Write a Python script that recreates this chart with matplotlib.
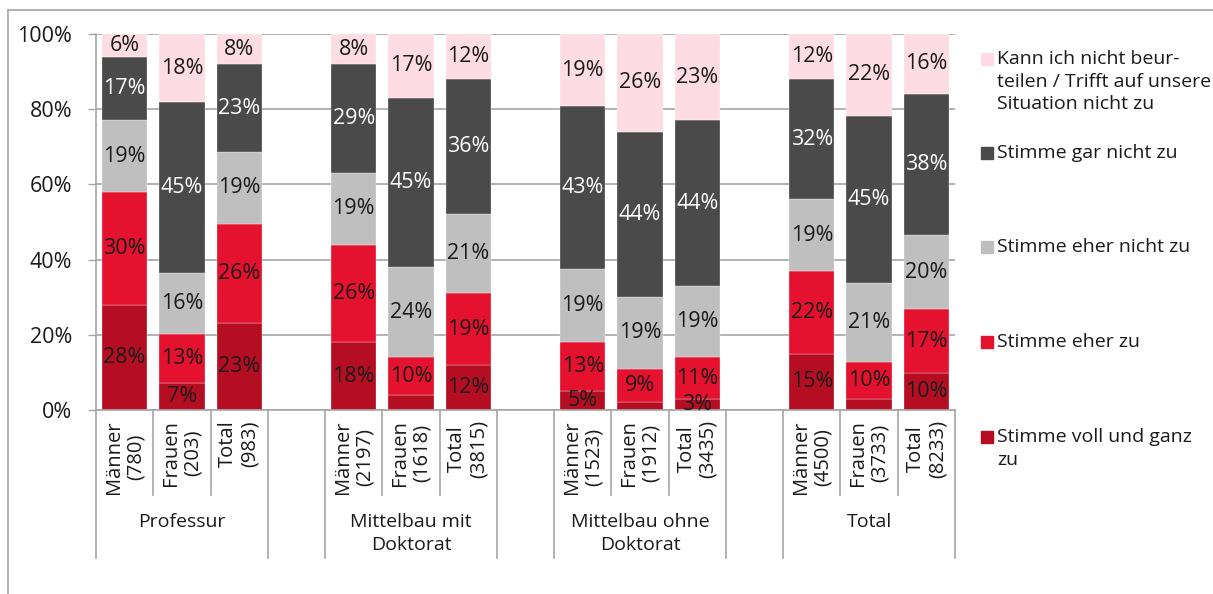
import matplotlib.pyplot as plt
import matplotlib.transforms as mtransforms
from matplotlib.lines import Line2D
from matplotlib.patches import Rectangle
import numpy as np

plt.rcParams["font.family"] = ["Open Sans", "DejaVu Sans"]

# data (percent per answer, bottom to top)
groups = ["Professur", "Mittelbau mit\nDoktorat", "Mittelbau ohne\nDoktorat", "Total"]
bar_labels = ["Männer\n(780)", "Frauen\n(203)", "Total\n(983)",
              "Männer\n(2197)", "Frauen\n(1618)", "Total\n(3815)",
              "Männer\n(1523)", "Frauen\n(1912)", "Total\n(3435)",
              "Männer\n(4500)", "Frauen\n(3733)", "Total\n(8233)"]
voll = [28, 7, 23, 18, 4, 12, 5, 2, 3, 15, 3, 10]
eher_zu = [30, 13, 26, 26, 10, 19, 13, 9, 11, 22, 10, 17]
eher_nicht = [19, 16, 19, 19, 24, 21, 19, 19, 19, 19, 21, 20]
gar_nicht = [17, 45, 23, 29, 45, 36, 43, 44, 44, 32, 45, 38]
kann_nicht = [6, 18, 8, 8, 17, 12, 19, 26, 23, 12, 22, 16]
series_names = ["Stimme voll und ganz\nzu", "Stimme eher zu", "Stimme eher nicht zu",
                "Stimme gar nicht zu", "Kann ich nicht beur-\nteilen / Trifft auf unsere\nSituation nicht zu"]
# segments whose value label is not shown (series index, bar index)
hidden = [(0, 4), (0, 7), (0, 10)]

colors = ["#B50E23", "#E4122E", "#BFBFBF", "#4A4A4A", "#FDDDE3"]
text_colors = ["#1a1a1a", "#1a1a1a", "#1a1a1a", "white", "#1a1a1a"]
grid_c = "#A6A6A6"
FS = 14
FS_NUM = 15.5

W, H = 1213, 594
fig = plt.figure(figsize=(W / 100, H / 100), dpi=100)
x0, x1, y0, y1 = 96, 955, 410, 34
ax = fig.add_axes([x0 / W, 1 - y0 / H, (x1 - x0) / W, (y0 - y1) / H])

data = np.array([voll, eher_zu, eher_nicht, gar_nicht, kann_nicht], dtype=float)
shares = data / data.sum(axis=0) * 100
n = data.shape[1]
pos = np.array([(j // 3) * 4 + (j % 3) + 0.5 for j in range(n)])

bottom = np.zeros(n)
for s in range(5):
    ax.bar(pos, shares[s], 0.79, bottom=bottom, color=colors[s],
           edgecolor="white", linewidth=0.2, zorder=2)
    for j in range(n):
        if (s, j) in hidden:
            continue
        ax.text(pos[j], bottom[j] + shares[s][j] / 2, f"{int(data[s][j])}%",
                ha="center", va="center", fontsize=FS_NUM, color=text_colors[s], zorder=3)
    bottom += shares[s]

ax.set_xlim(0, 15)
ax.set_ylim(0, 100)
ax.set_yticks(np.arange(0, 101, 20))
ax.set_yticklabels([f"{v}%" for v in range(0, 101, 20)], fontsize=FS_NUM, color="#1a1a1a")
ax.tick_params(axis="y", length=6, width=1, color=grid_c, pad=11)
ax.set_xticks([])
ax.yaxis.grid(True, color=grid_c, linewidth=1.2, zorder=0)
ax.set_axisbelow(True)
for sp in ["top", "right"]:
    ax.spines[sp].set_visible(False)
for sp in ["left", "bottom"]:
    ax.spines[sp].set_color(grid_c)
    ax.spines[sp].set_linewidth(1.2)

# multi-level category axis
trans = mtransforms.blended_transform_factory(ax.transData, ax.transAxes)
ph = y0 - y1
for j in range(n):
    ax.text(pos[j], -10 / ph, bar_labels[j], transform=trans, rotation=90,
            ha="center", va="top", multialignment="center", fontsize=14.5,
            color="#1a1a1a", linespacing=1.12)
for g in range(4):
    for k in range(4):
        xs = g * 4 + k
        long = k in (0, 3)
        ax.add_line(Line2D([xs, xs], [0, -(148 if long else 85) / ph], transform=trans,
                           color=grid_c, linewidth=1.2, clip_on=False))
    ax.text(g * 4 + 1.5, -103 / ph, groups[g], transform=trans, ha="center", va="top",
            fontsize=FS, color="#1a1a1a", linespacing=1.33)

# legend
leg_y = [437, 342, 247, 153, 59]
for s in range(5):
    fig.add_artist(Rectangle((981 / W, 1 - (leg_y[s] + 6) / H), 12 / W, 12 / H,
                             transform=fig.transFigure, color=colors[s]))
    fig.text(997 / W, 1 - (leg_y[s] - 9) / H, series_names[s], ha="left", va="top",
             fontsize=FS, color="#1a1a1a", linespacing=1.33)

# chart border (cropped)
fig.add_artist(Line2D([8 / W, 8 / W], [0, 1 - 10 / H], transform=fig.transFigure,
                      color=grid_c, linewidth=1.2))
fig.add_artist(Line2D([8 / W, 1], [1 - 10 / H, 1 - 10 / H], transform=fig.transFigure,
                      color=grid_c, linewidth=1.2))

fig.savefig("out.png", dpi=100)
